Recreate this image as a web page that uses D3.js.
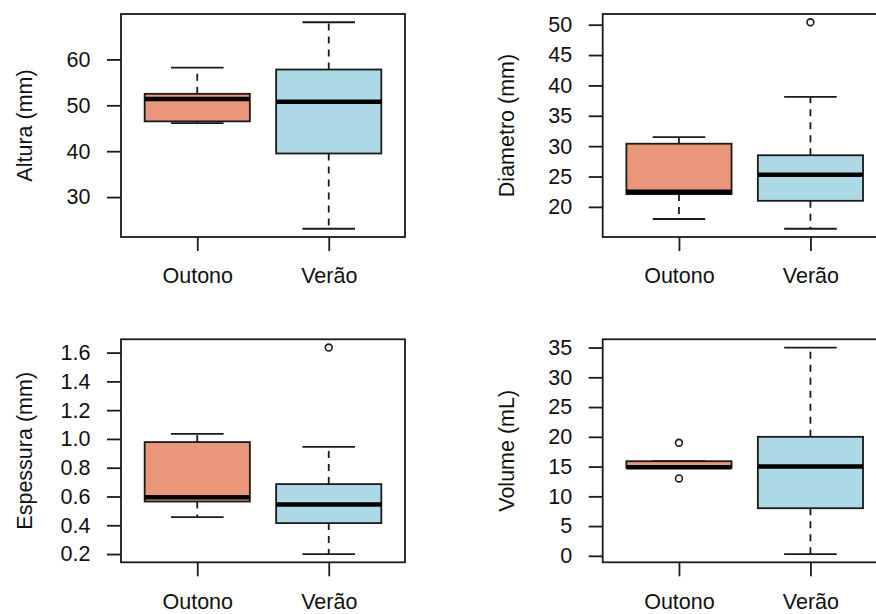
<!DOCTYPE html>
<html>
<head>
	<meta charset="utf-8"/>
	<title>Boxplots Outono / Verão</title>
	<script src="https://d3js.org/d3.v7.min.js"></script>
	<style>
		body{ margin:0; background:#fff; }
		svg{ display:block; font-family:"Liberation Sans", Arial, sans-serif; }
	</style>
</head>
<body>
<script>
	// categories and colours
	var categories = ["Outono", "Verão"];
	var fills = ["#E9967A", "#ADD8E6"];

	// stats per group: [lower whisker, Q1, median, Q3, upper whisker]
	var alturaStats = [[46.1, 46.5, 51.4, 52.5, 58.2], [23.1, 39.5, 50.8, 57.8, 68.1]];
	var alturaOut = [[], []];
	var alturaTicks = [30, 40, 50, 60];

	var diametroStats = [[18.0, 22.1, 22.5, 30.4, 31.5], [16.4, 21.0, 25.3, 28.5, 38.1]];
	var diametroOut = [[], [50.4]];
	var diametroTicks = [20, 25, 30, 35, 40, 45, 50];

	var espessuraStats = [[0.457, 0.565, 0.595, 0.978, 1.035], [0.20, 0.415, 0.545, 0.686, 0.945]];
	var espessuraOut = [[], [1.635]];
	var espessuraTicks = [0.2, 0.4, 0.6, 0.8, 1.0, 1.2, 1.4, 1.6];

	var volumeStats = [[14.8, 14.8, 14.9, 15.9, 15.9], [0.3, 8, 15, 20, 35]];
	var volumeOut = [[19, 13], []];
	var volumeTicks = [0, 5, 10, 15, 20, 25, 30, 35];

	var W = 284, H = 223;
	var panels = [
		{x:121, y:14, title:"Altura (mm)", stats:alturaStats, out:alturaOut, ticks:alturaTicks, fmt:d3.format("d")},
		{x:602.7, y:14, title:"Diametro (mm)", stats:diametroStats, out:diametroOut, ticks:diametroTicks, fmt:d3.format("d")},
		{x:121, y:339.3, title:"Espessura (mm)", stats:espessuraStats, out:espessuraOut, ticks:espessuraTicks, fmt:d3.format(".1f")},
		{x:602.7, y:339.3, title:"Volume (mL)", stats:volumeStats, out:volumeOut, ticks:volumeTicks, fmt:d3.format("d")}
	];

	var ink = "#1a1a1a";
	var fs = 21.5;

	var svg = d3.select("body").append("svg")
		.attr("width", 876)
		.attr("height", 614);

	panels.forEach(function(p){
		var g = svg.append("g").attr("transform", "translate(" + p.x + "," + p.y + ")");

		var all = d3.merge(p.stats).concat(d3.merge(p.out));
		var ext = d3.extent(all);
		var pad = (ext[1] - ext[0]) * 0.04;
		var y = d3.scaleLinear().domain([ext[0] - pad, ext[1] + pad]).range([H, 0]);
		var x = d3.scaleLinear().domain([0.42, 2.58]).range([0, W]);
		var bw = x(0.8) - x(0), cw = bw / 2;

		var boxes = g.selectAll("g.box").data(p.stats).enter().append("g").attr("class", "box");

		// dashed whiskers
		boxes.append("line")
			.attr("x1", function(d, i){ return x(i + 1); })
			.attr("x2", function(d, i){ return x(i + 1); })
			.attr("y1", function(d){ return y(d[3]); })
			.attr("y2", function(d){ return y(d[4]); })
			.attr("stroke", ink).attr("stroke-width", 1.8).attr("stroke-dasharray", "7,6");
		boxes.append("line")
			.attr("x1", function(d, i){ return x(i + 1); })
			.attr("x2", function(d, i){ return x(i + 1); })
			.attr("y1", function(d){ return y(d[1]); })
			.attr("y2", function(d){ return y(d[0]); })
			.attr("stroke", ink).attr("stroke-width", 1.8).attr("stroke-dasharray", "7,6");

		// caps
		[0, 4].forEach(function(k){
			boxes.append("line")
				.attr("x1", function(d, i){ return x(i + 1) - cw / 2; })
				.attr("x2", function(d, i){ return x(i + 1) + cw / 2; })
				.attr("y1", function(d){ return y(d[k]); })
				.attr("y2", function(d){ return y(d[k]); })
				.attr("stroke", ink).attr("stroke-width", 1.8);
		});

		// box
		boxes.append("rect")
			.attr("x", function(d, i){ return x(i + 1) - bw / 2; })
			.attr("y", function(d){ return y(d[3]); })
			.attr("width", bw)
			.attr("height", function(d){ return y(d[1]) - y(d[3]); })
			.attr("fill", function(d, i){ return fills[i]; })
			.attr("stroke", ink).attr("stroke-width", 1.8);

		// median
		boxes.append("line")
			.attr("x1", function(d, i){ return x(i + 1) - bw / 2; })
			.attr("x2", function(d, i){ return x(i + 1) + bw / 2; })
			.attr("y1", function(d){ return y(d[2]); })
			.attr("y2", function(d){ return y(d[2]); })
			.attr("stroke", "#000").attr("stroke-width", 4.5);

		// outliers
		p.out.forEach(function(arr, i){
			g.selectAll(null).data(arr).enter().append("circle")
				.attr("cx", x(i + 1))
				.attr("cy", function(d){ return y(d); })
				.attr("r", 3.4)
				.attr("fill", "none")
				.attr("stroke", ink).attr("stroke-width", 1.6);
		});

		// frame
		g.append("rect")
			.attr("width", W).attr("height", H)
			.attr("fill", "none").attr("stroke", ink).attr("stroke-width", 1.8);

		// axes
		var ya = g.append("g")
			.call(d3.axisLeft(y).tickValues(p.ticks).tickFormat(p.fmt).tickSize(14).tickPadding(16.5));
		var xa = g.append("g").attr("transform", "translate(0," + H + ")")
			.call(d3.axisBottom(x).tickValues([1, 2]).tickFormat(function(d){ return categories[d - 1]; }).tickSize(14).tickPadding(17));
		[ya, xa].forEach(function(a){
			a.select(".domain").remove();
			a.selectAll("line").attr("stroke", ink).attr("stroke-width", 1.8);
			a.selectAll("text").attr("fill", "#111").style("font-size", fs + "px").style("font-family", null);
			a.attr("font-family", null).attr("font-size", null);
		});

		// y title
		g.append("text")
			.attr("transform", "rotate(-90)")
			.attr("x", -H / 2)
			.attr("y", -89)
			.attr("text-anchor", "middle")
			.attr("fill", "#111")
			.style("font-size", fs + "px")
			.text(p.title);
	});
</script>
</body>
</html>
